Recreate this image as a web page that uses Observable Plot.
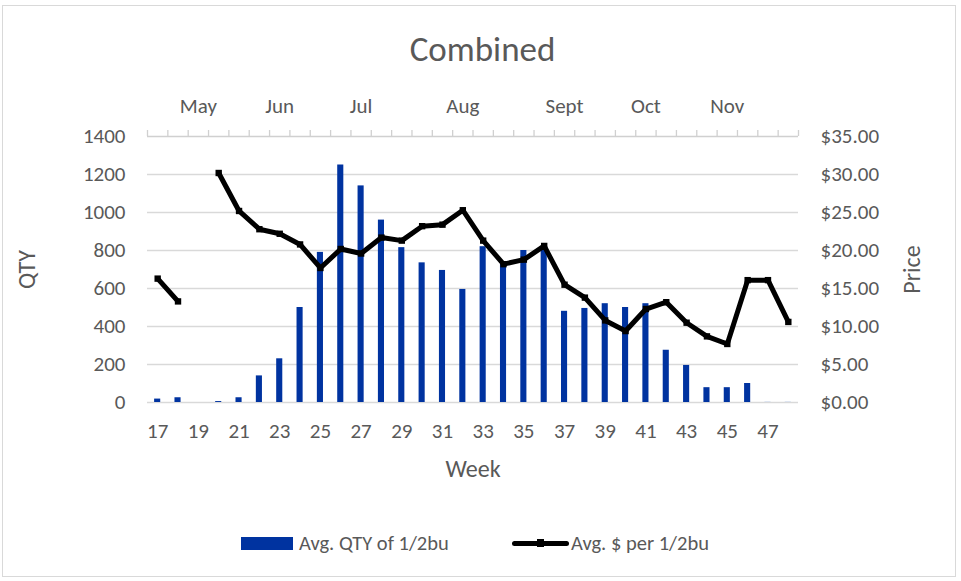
<!DOCTYPE html>
<html>
<head>
<meta charset="utf-8">
<script src="https://cdn.jsdelivr.net/npm/d3@7"></script>
<script src="https://cdn.jsdelivr.net/npm/@observablehq/plot@0.6"></script>
<style>
  html, body { margin: 0; padding: 0; background: #fff; }
  body { font-family: Carlito, Lato, "Open Sans", sans-serif; color: #595959; }
  #wrap { position: relative; width: 961px; height: 581px; overflow: hidden; }
  #border { position: absolute; left: 2px; top: 5px; width: 954px; height: 572px; border: 1.5px solid #d9d9d9; box-sizing: border-box; }
  #title { position: absolute; left: 2px; width: 961px; top: 27px; text-align: center; font-size: 35px; line-height: 44px; color: #595959; }
  #chart { position: absolute; left: 0; top: 0; }
  #legend { position: absolute; left: 0; top: 529px; width: 961px; height: 28px; font-size: 20.5px; color: #595959; }
  .li { position: absolute; top: 0; display: flex; align-items: center; height: 28px; }
  .sw-bar { width: 52px; height: 13px; background: #0033A0; margin-right: 6px; }
  .sw-line { position: relative; width: 57px; height: 5px; background: #000; border-radius: 3px; margin-right: 2px; }
  .sw-line span { position: absolute; left: 25px; top: -1.5px; width: 7px; height: 8px; background: #000; }
</style>
</head>
<body>
<div id="wrap">
  <div id="border"></div>
  <div id="chart"></div>
  <div id="title">Combined</div>
  <div id="legend">
    <div class="li" style="left:241px"><div class="sw-bar"></div><span>Avg. QTY of 1/2bu</span></div>
    <div class="li" style="left:512px"><div class="sw-line"><span></span></div><span>Avg. $ per 1/2bu</span></div>
  </div>
</div>
<script>
// ---- data ----
const weeks = [17,18,19,20,21,22,23,24,25,26,27,28,29,30,31,32,33,34,35,36,37,38,39,40,41,42,43,44,45,46,47,48];
const qty   = [18,25,null,5,25,140,230,500,790,1250,1140,960,815,735,695,595,820,740,800,810,480,495,520,500,520,275,195,78,78,100,2,2];
const price = [16.3,13.3,null,30.2,25.2,22.8,22.2,20.8,17.7,20.2,19.6,21.7,21.3,23.2,23.4,25.3,21.3,18.2,18.8,20.6,15.5,13.8,10.8,9.4,12.3,13.2,10.5,8.7,7.7,16.1,16.1,10.6];
const monthWeeks  = [19,23,27,32,37,41,45];
const monthLabels = ["May","Jun","Jul","Aug","Sept","Oct","Nov"];
const qtyTicks = [0,200,400,600,800,1000,1200,1400];
const weekTicks = [17,19,21,23,25,27,29,31,33,35,37,39,41,43,45,47];

const PRICE_MAX = 35, QTY_MAX = 1400, k = QTY_MAX / PRICE_MAX;
const rows = weeks.map((w, i) => ({week: w, qty: qty[i], price: price[i] == null ? NaN : price[i]}));

const W = 961, H = 581, mL = 147, mR = 163, mT = 136, mB = 179;
const step = (W - mL - mR) / weeks.length;
const grey = "#595959";
const font = 'Carlito, Lato, "Open Sans", sans-serif';
const tickUp = 6 * QTY_MAX / (H - mT - mB);

const chart = Plot.plot({
  width: W, height: H,
  marginLeft: mL, marginRight: mR, marginTop: mT, marginBottom: mB,
  style: {fontFamily: font, fontSize: "21px", color: grey, background: "transparent", overflow: "visible"},
  x: {type: "band", domain: weeks, paddingInner: 0.7, paddingOuter: 0.35, round: false},
  y: {domain: [0, QTY_MAX]},
  marks: [
    Plot.ruleY(qtyTicks.filter(d => d > 0 && d < QTY_MAX), {stroke: "#d9d9d9", strokeWidth: 1.3}),
    Plot.ruleY([0], {stroke: "#d9d9d9", strokeWidth: 1.5}),
    Plot.ruleY([QTY_MAX], {stroke: "#d0d0d0", strokeWidth: 1.5}),
    Plot.ruleX(weeks, {x: d => d, y1: QTY_MAX, y2: QTY_MAX + tickUp, dx: -step / 2, stroke: "#d0d0d0", strokeWidth: 1.3}),
    Plot.ruleX([weeks[weeks.length - 1]], {x: d => d, y1: QTY_MAX, y2: QTY_MAX + tickUp, dx: step / 2, stroke: "#d0d0d0", strokeWidth: 1.3}),
    Plot.barY(rows.filter(d => d.qty != null), {x: "week", y: "qty", fill: d => d.qty < 5 ? "#b4c7e7" : "#0033A0"}),
    Plot.lineY(rows, {x: "week", y: d => d.price * k, stroke: "#000", strokeWidth: 5, strokeLinejoin: "round", strokeLinecap: "butt"}),
    Plot.dot(rows.filter(d => !isNaN(d.price)), {x: "week", y: d => d.price * k, symbol: "square", r: 3.6, fill: "#000"}),
    Plot.axisY({anchor: "left", ticks: qtyTicks, tickSize: 0, tickPadding: 22, label: null, fill: grey,
      tickFormat: d => String(d)}),
    Plot.axisY({anchor: "right", ticks: qtyTicks, tickSize: 0, tickPadding: 22, label: null, fill: grey,
      tickFormat: d => "$" + (d / k).toFixed(2)}),
    Plot.axisX({anchor: "bottom", ticks: weekTicks, tickSize: 0, tickPadding: 21, label: null, fill: grey}),
    Plot.axisX({anchor: "top", ticks: monthWeeks, tickSize: 0, tickPadding: 24, label: null, fill: grey,
      tickFormat: d => monthLabels[monthWeeks.indexOf(d)]}),
    Plot.text(["Week"], {frameAnchor: "bottom", dy: 74, text: d => d, fill: grey, fontSize: 24, textAnchor: "middle"}),
    Plot.text(["QTY"], {frameAnchor: "left", dx: -120, rotate: -90, text: d => d, fill: grey, fontSize: 24, textAnchor: "middle"}),
    Plot.text(["Price"], {frameAnchor: "right", dx: 114, rotate: -90, text: d => d, fill: grey, fontSize: 24, textAnchor: "middle"})
  ]
});
document.getElementById("chart").appendChild(chart);
</script>
</body>
</html>
